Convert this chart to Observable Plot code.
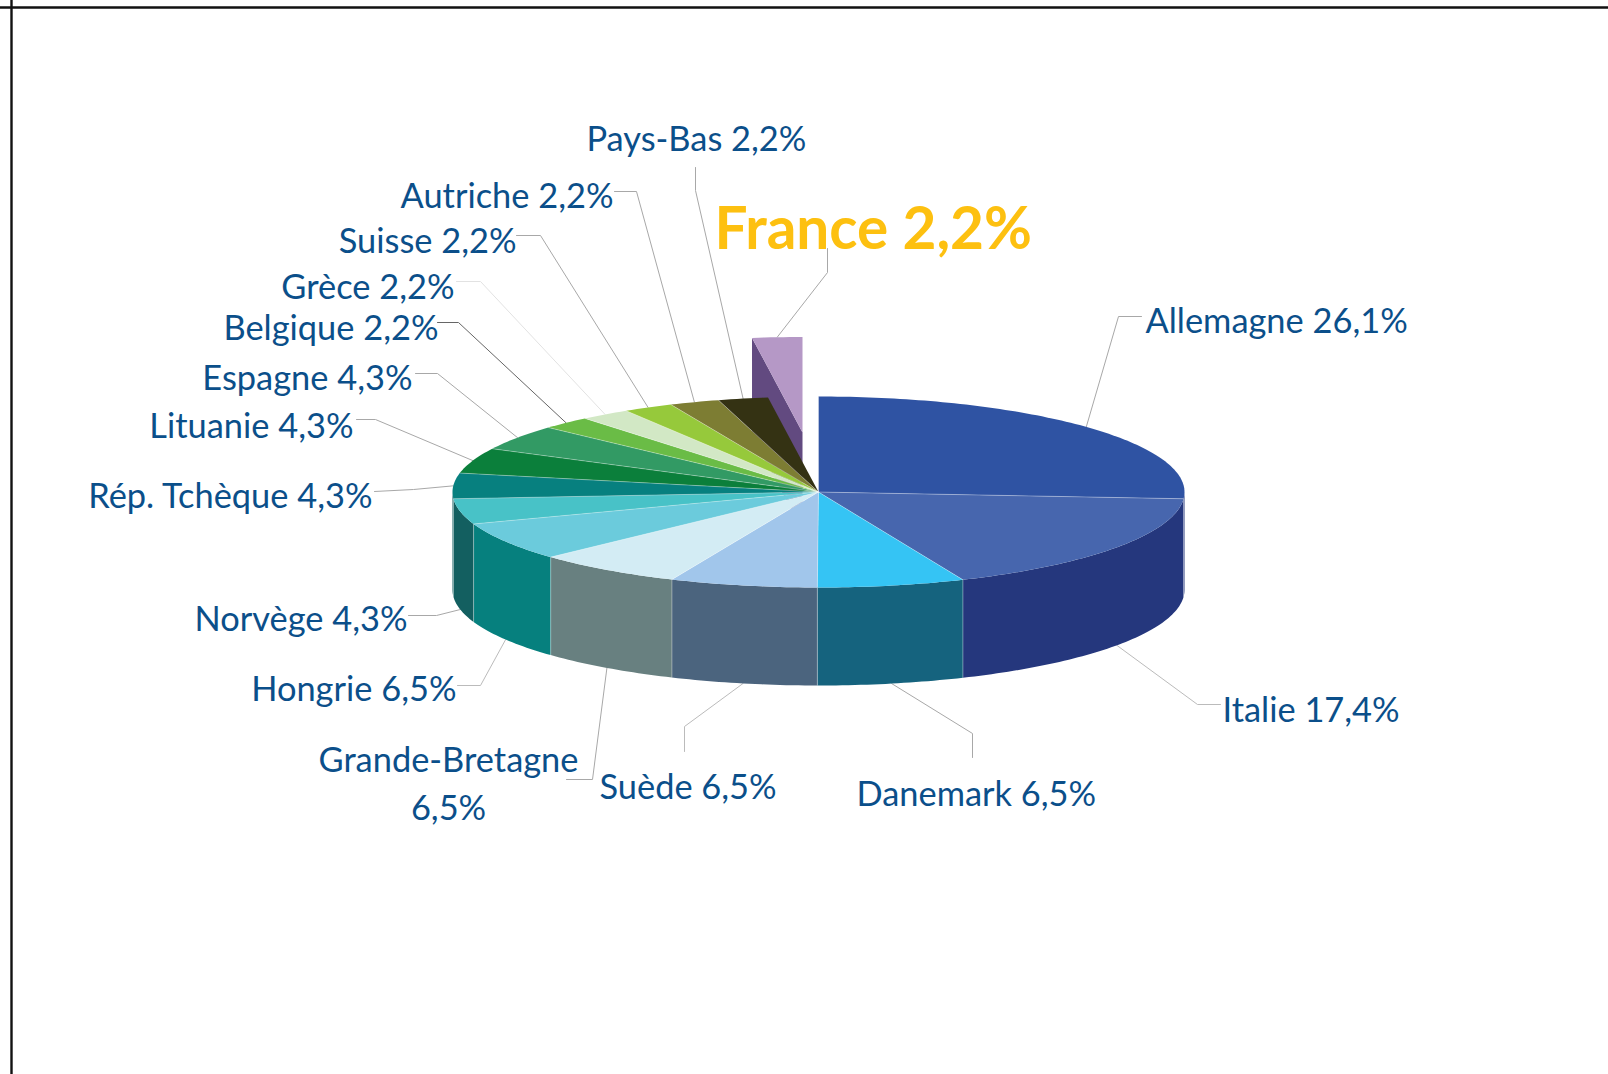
<!DOCTYPE html>
<html lang="fr">
<head>
<meta charset="utf-8">
<script src="https://cdn.jsdelivr.net/npm/d3@7"></script>
<script src="https://cdn.jsdelivr.net/npm/@observablehq/plot@0.6"></script>
<style>
html,body{margin:0;padding:0;background:#fff;overflow:hidden}
svg{display:block}
</style>
</head>
<body>
<div id="chart"></div>
<script>
// ---- data ----
const countries = ["Allemagne","Italie","Danemark","Suède","Grande-Bretagne","Hongrie","Norvège","Rép. Tchèque","Lituanie","Espagne","Belgique","Grèce","Suisse","Autriche","Pays-Bas","France"];
const shares = [26.1,17.4,6.5,6.5,6.5,6.5,4.3,4.3,4.3,4.3,2.2,2.2,2.2,2.2,2.2,2.2];
const topColors = ["#2f53a3","#4766ae","#35c4f4","#a1c6eb","#d3ecf4","#6bcbdc","#48c2c7","#07807f","#0b7f3b","#329a64","#6abc46","#d2e8c5","#96c93b","#7d7d33","#343213","#b598c6"];
const sideColors = ["#25377d","#25377d","#15637e","#4b647e","#688080","#06807e","#135f60","#135f60","#0b7f3b","#329a64","#6abc46","#d2e8c5","#96c93b","#7d7d33","#343213","#624a80"];

// ---- layout (pixels of the 1608x1074 frame) ----
const W = 1608, H = 1074;
const cx = 818, cy = 491.5, rx = 366, ry = 95.5, depth = 98;
const explode = {France: [-16, -59.5]};
const labelText = {"Grande-Bretagne": "Grande-Bretagne\n6,5%"};
const labelPos = {
  "Allemagne":[1145,317,"start"], "Italie":[1222,706,"start"], "Danemark":[856,790,"start"],
  "Suède":[599,783,"start"], "Grande-Bretagne":[448,780,"middle"], "Hongrie":[456,685,"end"],
  "Norvège":[407,615,"end"], "Rép. Tchèque":[372,492,"end"], "Lituanie":[353,422,"end"],
  "Espagne":[412,374,"end"], "Belgique":[438,324,"end"], "Grèce":[454,283,"end"],
  "Suisse":[516,237,"end"], "Autriche":[613,192,"end"], "Pays-Bas":[586,135,"start"],
  "France":[714,230,"start"]
};
const leaderBends = {
  "Allemagne":[[1118,316],[1141,316]], "Italie":[[1197,704],[1220,704]], "Danemark":[[972,733],[972,757]],
  "Suède":[[684,726],[684,751]], "Grande-Bretagne":[[592,779],[566,779]], "Hongrie":[[480,685],[457,685]],
  "Norvège":[[436,615],[408,615]], "Rép. Tchèque":[[413,489],[374,491]], "Lituanie":[[375,419],[356,419]],
  "Espagne":[[437,373],[415,373]], "Belgique":[[458,322],[437,322]], "Grèce":[[480,281],[456,281]],
  "Suisse":[[540,235],[516,235]], "Autriche":[[636,191],[614,191]], "Pays-Bas":[[695,190],[695,167]],
  "France":[[827,272],[827,248]]
};
const leaderStroke = {"Belgique":"#666","Grèce":"#e2e2e2","Italie":"#bbb","Suède":"#bbb","Hongrie":"#bbb"};

// ---- geometry from the values ----
const total = d3.sum(shares);
let acc = 0;
const slices = countries.map((name,i) => {
  const a0 = acc/total*360; acc += shares[i]; const a1 = acc/total*360;
  const [dx,dy] = explode[name] || [0,0];
  return {name,value:shares[i],a0,a1,mid:(a0+a1)/2,dx,dy,top:topColors[i],side:sideColors[i]};
});
const rim = (s,a,z=0) => {
  const t = a*Math.PI/180;
  return [cx+s.dx+rx*Math.sin(t), cy+s.dy-ry*Math.cos(t)+z];
};
const arc = (s,a0,a1,z=0) => {
  const n = Math.max(2,Math.ceil((a1-a0)/1));
  return d3.range(n+1).map(k => rim(s,a0+(a1-a0)*k/n,z));
};
const topRows=[], sideRows=[], cutRows=[], spokes=[], edges=[], leaders=[];
const push=(rows,s,pts,color)=>pts.forEach(([x,y])=>rows.push({x,y,key:s.name,color}));
for (const s of slices) {
  const c=[cx+s.dx,cy+s.dy];
  push(topRows,s,[c,...arc(s,s.a0,s.a1),c],s.top);
  const a=Math.max(s.a0,90), b=Math.min(s.a1,270);
  if (b>a) push(sideRows,s,[...arc(s,a,b),...arc(s,a,b,depth).reverse()],s.side);
  if (s.dx||s.dy) {
    const p=rim(s,s.a0);
    push(cutRows,s,[c,[c[0],c[1]+depth],[p[0],p[1]+depth],p],s.side);
  } else {
    const p=rim(s,s.a0);
    spokes.push({x1:c[0],y1:c[1],x2:p[0],y2:p[1]});
    if (s.a0>=90&&s.a0<=270) edges.push({x1:p[0],y1:p[1],x2:p[0],y2:p[1]+depth});
  }
  const z=(s.mid>90&&s.mid<270)?depth:0;
  const line=[rim(s,s.mid,z),...leaderBends[s.name]];
  line.forEach(([x,y])=>leaders.push({x,y,key:s.name,stroke:leaderStroke[s.name]||"#a8a8a8"}));
}
const labels=slices.map(s=>{
  const [x,y,anchor]=labelPos[s.name];
  const pct=s.value.toFixed(1).replace(".",",")+"%";
  return {x,y,anchor,text:labelText[s.name]||`${s.name} ${pct}`,name:s.name};
});
const textMark=(anchor,opts)=>Plot.text(labels.filter(d=>d.name!=="France"&&d.anchor===anchor),{
  x:"x",y:"y",text:"text",textAnchor:anchor,fill:"#0b4f8a",fontSize:34.4,lineHeight:1.4,fontFamily:"Lato",...opts});

const chart=Plot.plot({
  width:W,height:H,margin:0,
  x:{domain:[0,W],range:[0,W],axis:null},
  y:{domain:[0,H],range:[0,H],axis:null},
  style:{background:"#fff"},
  marks:[
    Plot.ruleX([11],{stroke:"#111",strokeWidth:2.4}),
    Plot.ruleY([7],{stroke:"#111",strokeWidth:2.4}),
    Plot.line(leaders,{x:"x",y:"y",z:"key",stroke:"stroke",strokeWidth:1,curve:"linear"}),
    Plot.line(cutRows,{x:"x",y:"y",z:"key",fill:"color",stroke:"none",curve:"linear"}),
    Plot.line(sideRows,{x:"x",y:"y",z:"key",fill:"color",stroke:"none",curve:"linear"}),
    Plot.link(edges,{x1:"x1",y1:"y1",x2:"x2",y2:"y2",stroke:"#fff",strokeOpacity:0.35,strokeWidth:1,curve:"linear"}),
    Plot.line(topRows,{x:"x",y:"y",z:"key",fill:"color",stroke:"none",curve:"linear"}),
    Plot.link(spokes,{x1:"x1",y1:"y1",x2:"x2",y2:"y2",stroke:"#fff",strokeOpacity:0.4,strokeWidth:0.8,curve:"linear"}),
    textMark("start"),textMark("middle"),textMark("end"),
    Plot.text(labels.filter(d=>d.name==="France"),{x:"x",y:"y",text:"text",textAnchor:"start",fill:"#fdc010",fontSize:58.5,fontWeight:700,fontFamily:"Lato"})
  ]
});
document.getElementById("chart").append(chart);
</script>
</body>
</html>
